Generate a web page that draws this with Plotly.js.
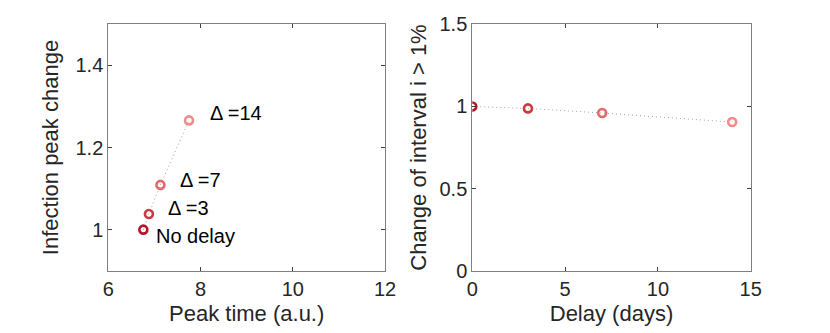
<!DOCTYPE html>
<html>
<head>
<meta charset="utf-8">
<script src="https://cdn.plot.ly/plotly-3.0.1.min.js"></script>
<style>
  html, body { margin: 0; padding: 0; background: #fff; }
  #chart { width: 830px; height: 333px; }
</style>
</head>
<body>
<div id="chart"></div>
<script>
// Data
const delays = [0, 3, 7, 14];
const peakTime = [6.76, 6.88, 7.13, 7.75];
const peakChange = [1.0, 1.038, 1.109, 1.266];
const intervalChange = [1.0, 0.988, 0.96, 0.905];
const pointColors = ['#b2182b', '#cc3a40', '#e36a6a', '#f08c8c'];
const labels = ['No delay', '\u0394 =3', '\u0394 =7', '\u0394 =14'];
const labelX = [6.99, 7.25, 7.51, 8.16];
const labelY = [0.985, 1.053, 1.121, 1.285];

const FAMILY = 'Liberation Sans, Arial, Helvetica, sans-serif';
const TICKFONT = { family: FAMILY, size: 20, color: '#262626' };
const TITLEFONT = { family: FAMILY, size: 22, color: '#262626' };

const marker = {
    symbol: 'circle-open',
    size: 8,
    color: pointColors,
    line: { width: 2.6, color: pointColors }
};

const traces = [
    {
        x: peakTime, y: peakChange, xaxis: 'x', yaxis: 'y',
        mode: 'lines+markers', type: 'scatter',
        line: { color: '#a0a0a0', width: 1, dash: '1px,3px' },
        marker: marker
    },
    {
        x: delays, y: intervalChange, xaxis: 'x2', yaxis: 'y2',
        mode: 'lines+markers', type: 'scatter',
        line: { color: '#a0a0a0', width: 1, dash: '1px,3px' },
        marker: marker
    }
];

function axis(extra) {
    return Object.assign({
        showgrid: false,
        zeroline: false,
        showline: true,
        mirror: 'ticks',
        linecolor: '#808080',
        linewidth: 1,
        ticks: 'inside',
        ticklen: 4,
        tickcolor: '#404040',
        tickfont: TICKFONT,
        fixedrange: true
    }, extra);
}

const annotations = labels.map((t, i) => ({
    x: labelX[i], y: labelY[i], xref: 'x', yref: 'y',
    text: t, showarrow: false,
    xanchor: 'left', yanchor: 'middle',
    font: { family: FAMILY, size: 20, color: '#000' }
}));

const layout = {
    width: 830,
    height: 333,
    margin: { l: 0, r: 0, t: 0, b: 0 },
    paper_bgcolor: '#fff',
    plot_bgcolor: '#fff',
    showlegend: false,
    font: TICKFONT,
    xaxis: axis({
        domain: [0.1305, 0.4639], range: [6, 12], tickvals: [6, 8, 10, 12],
        anchor: 'y',
        title: { text: 'Peak time (a.u.)', font: TITLEFONT, standoff: 6 }
    }),
    yaxis: axis({
        domain: [0.187, 0.927], range: [0.9, 1.5], tickvals: [1, 1.2, 1.4],
        anchor: 'x',
        title: { text: 'Infection peak change', font: TITLEFONT, standoff: 10 }
    }),
    xaxis2: axis({
        domain: [0.569, 0.9045], range: [0, 15], tickvals: [0, 5, 10, 15],
        anchor: 'y2',
        title: { text: 'Delay (days)', font: TITLEFONT, standoff: 6 }
    }),
    yaxis2: axis({
        domain: [0.187, 0.927], range: [0, 1.5], tickvals: [0, 0.5, 1, 1.5],
        anchor: 'x2',
        title: { text: 'Change of interval i > 1%', font: TITLEFONT, standoff: 6 }
    }),
    annotations: annotations
};

Plotly.newPlot('chart', traces, layout, { staticPlot: true, displayModeBar: false });
</script>
</body>
</html>
